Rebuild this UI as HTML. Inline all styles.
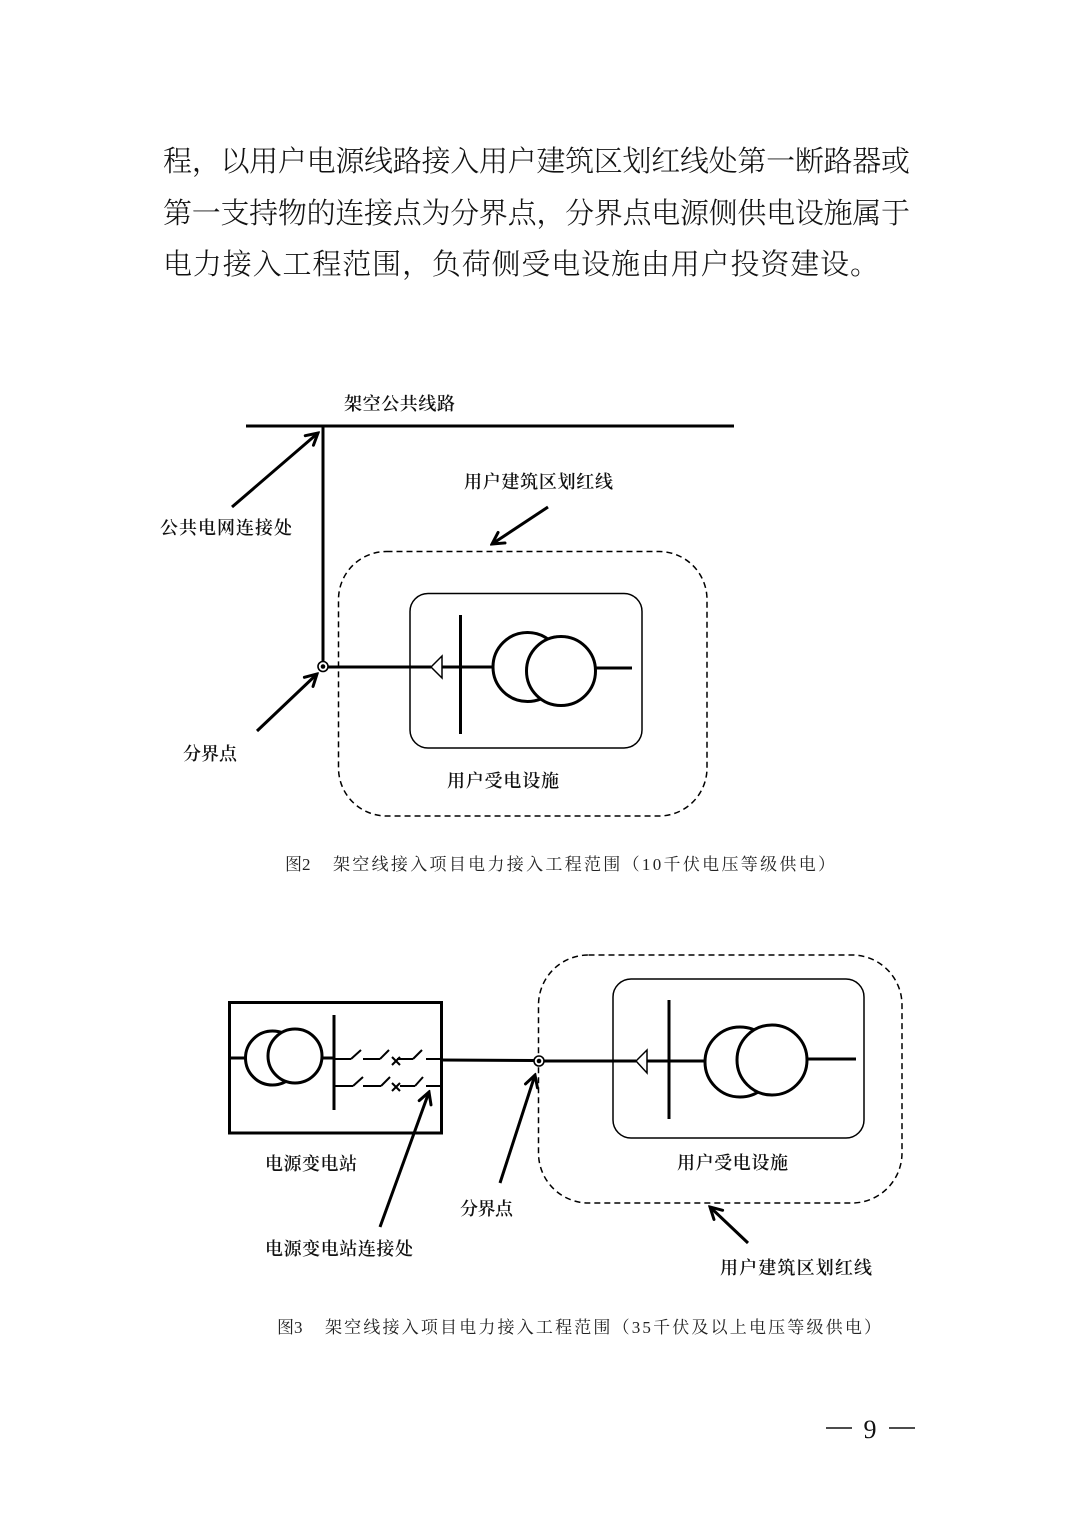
<!DOCTYPE html>
<html><head><meta charset="utf-8">
<style>
html,body{margin:0;padding:0;background:#fff;}
svg{display:block;}
.p{font-family:"Liberation Serif","Noto Serif CJK SC",serif;font-size:29px;font-weight:300;fill:#111;}
.l{font-family:"Liberation Serif","Noto Serif CJK SC",serif;font-size:18px;font-weight:600;fill:#111;}
.c{font-family:"Liberation Serif","Noto Serif CJK SC",serif;font-size:17px;fill:#222;}
.n{font-family:"Liberation Serif","Noto Serif CJK SC",serif;font-size:26px;fill:#111;}
</style></head>
<body>
<svg width="1074" height="1520" viewBox="0 0 1074 1520" xmlns="http://www.w3.org/2000/svg">
<defs>
<marker id="ah" viewBox="0 0 14 14" refX="12" refY="7" markerWidth="16" markerHeight="16" orient="auto" markerUnits="userSpaceOnUse">
<path d="M2,1.5 L12,7 L2,12.5" fill="none" stroke="#000" stroke-width="2.6" stroke-linecap="round" stroke-linejoin="miter"/>
</marker>
</defs>
<rect width="1074" height="1520" fill="#fff"/>

<text class="p" x="163" y="171" textLength="747" lengthAdjust="spacing">程，以用户电源线路接入用户建筑区划红线处第一断路器或</text>
<text class="p" x="163" y="223" textLength="747" lengthAdjust="spacing">第一支持物的连接点为分界点，分界点电源侧供电设施属于</text>
<text class="p" x="163" y="274" textLength="716" lengthAdjust="spacing">电力接入工程范围，负荷侧受电设施由用户投资建设。</text>

<g stroke="#000" fill="none" stroke-linecap="butt">
<line x1="246" y1="426" x2="734" y2="426" stroke-width="3"/>
<line x1="323" y1="426" x2="323" y2="661" stroke-width="3"/>
<line x1="232" y1="507" x2="318" y2="433" stroke-width="3" marker-end="url(#ah)"/>
<line x1="548" y1="507" x2="492" y2="544" stroke-width="3" marker-end="url(#ah)"/>
<line x1="257" y1="731" x2="317" y2="674" stroke-width="3" marker-end="url(#ah)"/>
<rect x="338.5" y="551.5" width="368.5" height="264.5" rx="48" ry="48" stroke-width="1.5" stroke-dasharray="6,4"/>
<rect x="410" y="593.5" width="232" height="154.5" rx="18" ry="18" stroke-width="1.5"/>
<line x1="328" y1="667" x2="431" y2="667" stroke-width="3"/>
<polygon points="431,667 442,656 442,678" fill="#fff" stroke-width="1.5"/>
<line x1="442" y1="667" x2="493" y2="667" stroke-width="3"/>
<line x1="460.5" y1="615" x2="460.5" y2="734" stroke-width="3"/>
<circle cx="527.5" cy="667" r="34.5" stroke-width="3"/>
<circle cx="561" cy="671" r="34.5" fill="#fff" stroke-width="3"/>
<line x1="595" y1="668" x2="632" y2="668" stroke-width="3"/>
<circle cx="323" cy="666.5" r="5" fill="#fff" stroke-width="1.6"/>
<circle cx="323" cy="666.5" r="2.3" fill="#000" stroke="none"/>
</g>
<text class="l" x="344" y="410" textLength="111" lengthAdjust="spacing">架空公共线路</text>
<text class="l" x="160" y="534" textLength="132" lengthAdjust="spacing">公共电网连接处</text>
<text class="l" x="464" y="488" textLength="149" lengthAdjust="spacing">用户建筑区划红线</text>
<text class="l" x="183" y="760" textLength="54" lengthAdjust="spacing">分界点</text>
<text class="l" x="447" y="787" textLength="112" lengthAdjust="spacing">用户受电设施</text>

<text class="c" x="285" y="870">图2</text>
<text class="c" x="333" y="870" textLength="502" lengthAdjust="spacing">架空线接入项目电力接入工程范围（10千伏电压等级供电）</text>

<g stroke="#000" fill="none" stroke-linecap="butt">
<rect x="229.5" y="1002.5" width="212" height="130.5" stroke-width="3"/>
<line x1="229" y1="1058" x2="246" y2="1058" stroke-width="3"/>
<circle cx="272.5" cy="1058" r="27" stroke-width="3"/>
<circle cx="295" cy="1056" r="27" fill="#fff" stroke-width="3"/>
<line x1="322" y1="1058" x2="334" y2="1058" stroke-width="3"/>
<line x1="334" y1="1015" x2="334" y2="1110" stroke-width="3"/>
<g stroke-width="2">
<line x1="334" y1="1059" x2="351" y2="1059"/>
<line x1="351" y1="1059" x2="361" y2="1050"/>
<line x1="363" y1="1059" x2="380" y2="1059"/>
<line x1="380" y1="1059" x2="389" y2="1050"/>
<line x1="392" y1="1057" x2="400" y2="1065"/>
<line x1="400" y1="1057" x2="392" y2="1065"/>
<line x1="397" y1="1059" x2="413" y2="1059"/>
<line x1="413" y1="1059" x2="422" y2="1050"/>
<line x1="426" y1="1059" x2="441" y2="1059"/>
<line x1="334" y1="1086" x2="353" y2="1086"/>
<line x1="353" y1="1086" x2="363" y2="1077"/>
<line x1="363" y1="1086" x2="381" y2="1086"/>
<line x1="381" y1="1086" x2="390" y2="1077"/>
<line x1="392" y1="1083" x2="400" y2="1091"/>
<line x1="400" y1="1083" x2="392" y2="1091"/>
<line x1="400" y1="1086" x2="415" y2="1086"/>
<line x1="415" y1="1086" x2="423" y2="1077"/>
<line x1="426" y1="1086" x2="441" y2="1086"/>
</g>
<line x1="441" y1="1060" x2="534" y2="1060.5" stroke-width="3"/>
<rect x="538.5" y="955" width="363.5" height="248" rx="50" ry="50" stroke-width="1.5" stroke-dasharray="6,4"/>
<rect x="613" y="979" width="251" height="159" rx="18" ry="18" stroke-width="1.5"/>
<line x1="544" y1="1061" x2="636" y2="1061" stroke-width="3"/>
<polygon points="636,1061 647,1050 647,1073" fill="#fff" stroke-width="1.5"/>
<line x1="647" y1="1061" x2="705" y2="1061" stroke-width="3"/>
<line x1="669" y1="1000" x2="669" y2="1119" stroke-width="3"/>
<circle cx="740" cy="1062" r="35" stroke-width="3"/>
<circle cx="772" cy="1060" r="35" fill="#fff" stroke-width="3"/>
<line x1="807" y1="1059" x2="856" y2="1059" stroke-width="3"/>
<circle cx="539" cy="1061" r="5" fill="#fff" stroke-width="1.6"/>
<circle cx="539" cy="1061" r="2.3" fill="#000" stroke="none"/>
<line x1="380" y1="1227" x2="429" y2="1092" stroke-width="3" marker-end="url(#ah)"/>
<line x1="500" y1="1183" x2="535" y2="1075" stroke-width="3" marker-end="url(#ah)"/>
<line x1="748" y1="1243" x2="710" y2="1207" stroke-width="3" marker-end="url(#ah)"/>
</g>
<text class="l" x="265" y="1170" textLength="92" lengthAdjust="spacing">电源变电站</text>
<text class="l" x="677" y="1169" textLength="111" lengthAdjust="spacing">用户受电设施</text>
<text class="l" x="460" y="1215" textLength="53" lengthAdjust="spacing">分界点</text>
<text class="l" x="265" y="1255" textLength="148" lengthAdjust="spacing">电源变电站连接处</text>
<text class="l" x="720" y="1274" textLength="152" lengthAdjust="spacing">用户建筑区划红线</text>

<text class="c" x="277" y="1333">图3</text>
<text class="c" x="325" y="1333" textLength="556" lengthAdjust="spacing">架空线接入项目电力接入工程范围（35千伏及以上电压等级供电）</text>

<line x1="826" y1="1428" x2="852" y2="1428" stroke="#111" stroke-width="1.4"/>
<text class="n" x="870" y="1438" text-anchor="middle">9</text>
<line x1="889" y1="1428" x2="915" y2="1428" stroke="#111" stroke-width="1.4"/>
</svg>
</body></html>
